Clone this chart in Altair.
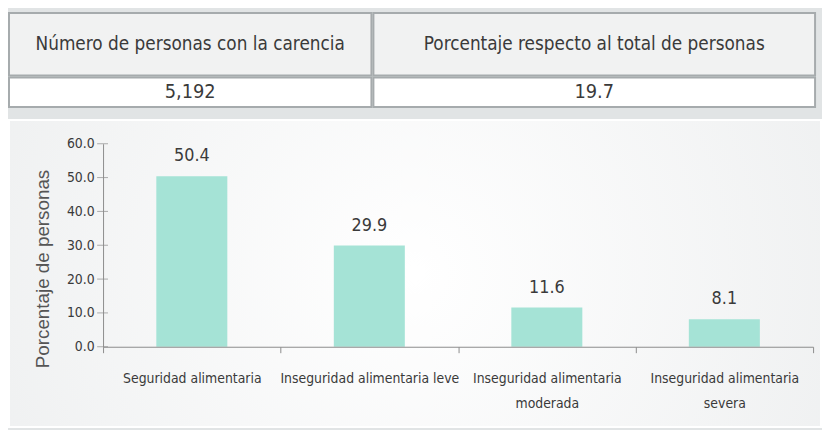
import altair as alt
import pandas as pd

# ---- data ----
header_labels = ["Número de personas con la carencia", "Porcentaje respecto al total  de personas"]
header_values = ["5,192", "19.7"]

categories = [
    "Seguridad alimentaria",
    "Inseguridad alimentaria leve",
    "Inseguridad alimentaria moderada",
    "Inseguridad alimentaria severa",
]
category_lines = [
    ["Seguridad alimentaria"],
    ["Inseguridad alimentaria leve"],
    ["Inseguridad alimentaria", "moderada"],
    ["Inseguridad alimentaria", "severa"],
]
values = [50.4, 29.9, 11.6, 8.1]
y_ticks = [0, 10, 20, 30, 40, 50, 60]

NARROW = "Liberation Sans Narrow, DejaVu Sans Condensed, sans-serif"
TEXT = "#3a3a3a"
BORDER = "#a6abad"
AXIS = "#8c8c8c"

col_widths = [366, 446]


def cell(text, w, h, fill, size):
    return (
        alt.Chart(pd.DataFrame({"t": [text]}))
        .mark_text(font=NARROW, fontSize=size, color=TEXT)
        .encode(text="t:N")
        .properties(width=w, height=h,
                    view=alt.ViewBackground(fill=fill, stroke=BORDER, strokeWidth=2))
    )


header_row = alt.hconcat(
    *[cell(t, w, 63, "#f1f2f2", 19) for t, w in zip(header_labels, col_widths)], spacing=0
)
value_row = alt.hconcat(
    *[cell(t, w, 30, "#ffffff", 20) for t, w in zip(header_values, col_widths)], spacing=0
)
table = alt.vconcat(header_row, value_row, spacing=0)

# ---- bar chart (the view is the whole panel) ----
PW, PH = 820, 310          # panel size
X0, X1 = 95, 812           # plot area inside panel
Y0, Y1 = 229, 24           # y of 0 and of 60 inside panel

df = pd.DataFrame({"cat": categories, "val": values})
ticks_df = pd.DataFrame({"v": y_ticks})
label_map = "{" + ", ".join(
    "'%s': [%s]" % (c, ", ".join("'%s'" % s for s in lines))
    for c, lines in zip(categories, category_lines)
) + "}"

xscale = alt.Scale(range=[X0, X1], paddingInner=0, paddingOuter=0)
yscale = alt.Scale(domain=[0, 60], range=[Y0, Y1])

xenc = alt.X(
    "cat:N", sort=categories, title=None, scale=xscale,
    axis=alt.Axis(
        labelAngle=0, tickBand="extent", labelExpr=label_map + "[datum.value]",
        labelFont=NARROW, labelFontSize=14, labelColor=TEXT, labelLineHeight=25,
        labelPadding=19, tickSize=6, tickColor=AXIS, domainColor=AXIS,
        labelBaseline="top", offset=-(PH - Y0), zindex=1, labelLimit=300,
        labelOverlap=False,
    ),
)
yenc = alt.Y(
    "val:Q", title="Porcentaje de personas", scale=yscale,
    axis=alt.Axis(
        values=y_ticks, format=".1f", grid=False, ticks=False,
        labelFont=NARROW, labelFontSize=14, labelColor=TEXT, labelPadding=9,
        domainColor=AXIS, offset=-X0, zindex=1,
        titleFont="Liberation Sans", titleFontSize=19, titleFontWeight="normal",
        titleColor="#555555", titleX=-61, titleY=150, titleAngle=270,
        titleAlign="center", titleBaseline="middle",
    ),
)

panel_fill = alt.RadialGradient(
    gradient="radial",
    stops=[alt.GradientStop(offset=0, color="#ffffff"),
           alt.GradientStop(offset=1, color="#e8eaeb")],
    x1=0.5, y1=0.5, x2=0.5, y2=0.5, r1=0, r2=0.8,
)
panel = alt.Chart(pd.DataFrame({"a": [0]})).mark_rect(
    fill=panel_fill, stroke="#ffffff", strokeWidth=2
).encode(x=alt.value(0), x2=alt.value(PW), y=alt.value(0), y2=alt.value(PH))

bars = alt.Chart(df).mark_bar(color="#a5e3d6", width=alt.RelativeBandSize(0.4)).encode(
    x=xenc, y=yenc
)
labels = alt.Chart(df).mark_text(
    font=NARROW, fontSize=18, color=TEXT, baseline="bottom", dy=-11
).encode(
    x=alt.X("cat:N", sort=categories, scale=xscale),
    y=alt.Y("val:Q", scale=yscale),
    text=alt.Text("val:Q", format=".1f"),
)
yticks = alt.Chart(ticks_df).mark_tick(
    orient="horizontal", size=11, thickness=1, color=AXIS
).encode(x=alt.value(X0 - 0.5), y=alt.Y("v:Q", scale=yscale))

barchart = alt.layer(panel, bars, labels, yticks).properties(width=PW, height=PH)

chart = (
    alt.vconcat(table, barchart, spacing=11)
    .properties(padding={"top": 2, "left": 0, "right": 0, "bottom": 0}, background="#e1e4e5")
    .configure_view(stroke=None)
)

chart.save("out.html", embed_options={"renderer": "svg", "actions": False})
